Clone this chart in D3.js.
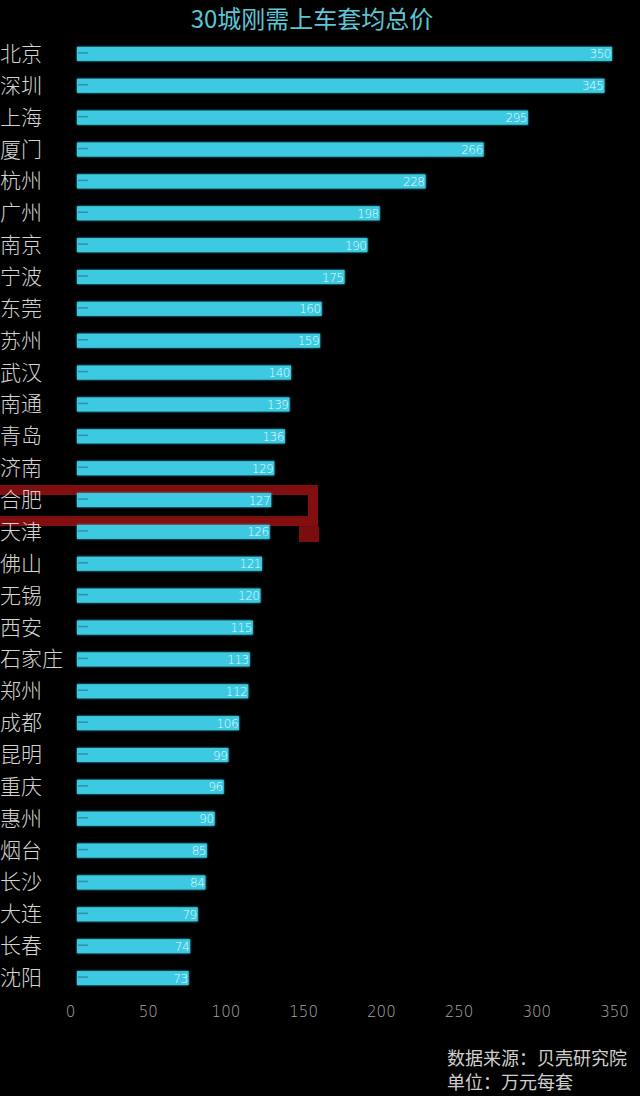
<!DOCTYPE html>
<html>
<head>
<meta charset="utf-8">
<script src="https://d3js.org/d3.v7.min.js"></script>
<style>
  html, body { margin: 0; padding: 0; background: #000; }
  svg { display: block; }
  .axis .domain, .axis line { stroke: none; }
  .axis text { fill: #a8a8a8; font-family: "DejaVu Sans", sans-serif; font-size: 15px; font-weight: 200; }
</style>
</head>
<body>
<svg id="chart" width="640" height="1096"></svg>
<script>
const cities = ['北京', '深圳', '上海', '厦门', '杭州', '广州', '南京', '宁波', '东莞', '苏州',
  '武汉', '南通', '青岛', '济南', '合肥', '天津', '佛山', '无锡', '西安', '石家庄',
  '郑州', '成都', '昆明', '重庆', '惠州', '烟台', '长沙', '大连', '长春', '沈阳'];
const prices = [350, 345, 295, 266, 228, 198, 190, 175, 160, 159,
  140, 139, 136, 129, 127, 126, 121, 120, 115, 113,
  112, 106, 99, 96, 90, 85, 84, 79, 74, 73];
const ticks = [0, 50, 100, 150, 200, 250, 300, 350];
const highlight = '合肥';

const svg = d3.select('svg#chart');
const data = cities.map((c, i) => ({city: c, value: prices[i]}));

const x = d3.scaleLinear().domain([0, 350]).range([77, 612]);
const xAxisScale = d3.scaleLinear().domain([0, 350]).range([70, 614]);
const y = d3.scaleBand().domain(cities).range([38, 994]).paddingInner(0.56).paddingOuter(0.28);

// glow
const defs = svg.append('defs');
const glow = defs.append('filter').attr('id', 'glow').attr('x', '-5%').attr('y', '-50%').attr('width', '110%').attr('height', '200%');
glow.append('feGaussianBlur').attr('stdDeviation', 1.2).attr('result', 'b');
const merge = glow.append('feMerge');
merge.append('feMergeNode').attr('in', 'b');
merge.append('feMergeNode').attr('in', 'SourceGraphic');

// title
svg.append('text')
  .attr('x', 312).attr('y', 28)
  .attr('text-anchor', 'middle')
  .attr('fill', '#5cc6d6')
  .style('font-family', '"Noto Sans CJK SC", sans-serif')
  .style('font-size', '24px')
  .style('font-weight', 400)
  .text('30城刚需上车套均总价');

// highlight box behind
const hy = y(highlight);
svg.append('rect')
  .attr('x', -10).attr('y', hy - 3)
  .attr('width', 323).attr('height', y.bandwidth() + 17)
  .attr('fill', '#000')
  .attr('stroke', '#820f0f').attr('stroke-width', 10);
svg.append('rect')
  .attr('x', 299).attr('y', hy + y.bandwidth() + 19)
  .attr('width', 20).attr('height', 16)
  .attr('fill', '#7a0d0d');

// bars
const rows = svg.append('g').selectAll('g').data(data).join('g');

rows.append('rect')
  .attr('x', x(0))
  .attr('y', d => y(d.city))
  .attr('width', d => x(d.value) - x(0))
  .attr('height', y.bandwidth())
  .attr('fill', '#3cc9e1')
  .attr('filter', 'url(#glow)');

rows.append('line')
  .attr('x1', x(0) + 1).attr('x2', x(0) + 11)
  .attr('y1', d => y(d.city) + y.bandwidth() / 2 - 1)
  .attr('y2', d => y(d.city) + y.bandwidth() / 2 - 1)
  .attr('stroke', '#2a93a8').attr('stroke-width', 1.5);

rows.append('text')
  .attr('x', d => x(d.value) - 1)
  .attr('y', d => y(d.city) + y.bandwidth() / 2 + 4.5)
  .attr('text-anchor', 'end')
  .attr('fill', '#e6fbff')
  .style('font-family', '"DejaVu Sans", sans-serif')
  .style('font-size', '12px')
  .style('font-weight', 200)
  .style('letter-spacing', '-0.5px')
  .text(d => d.value);

rows.append('text')
  .attr('x', 0)
  .attr('y', d => y(d.city) + y.bandwidth() / 2 + 7)
  .attr('fill', '#d4d4d4')
  .style('font-family', '"Noto Sans CJK SC", sans-serif')
  .style('font-size', '21px')
  .style('font-weight', 300)
  .text(d => d.city);

// x axis
svg.append('g')
  .attr('class', 'axis')
  .attr('transform', 'translate(0,1000)')
  .call(d3.axisBottom(xAxisScale).tickValues(ticks).tickSize(0).tickPadding(6));

// footer
const foot = svg.append('g')
  .style('font-family', '"Noto Sans CJK SC", sans-serif')
  .style('font-size', '18px')
  .attr('fill', '#cfcfcf');
foot.append('text').attr('x', 447).attr('y', 1065).text('数据来源：贝壳研究院');
foot.append('text').attr('x', 447).attr('y', 1089).text('单位：万元每套');
</script>
</body>
</html>
